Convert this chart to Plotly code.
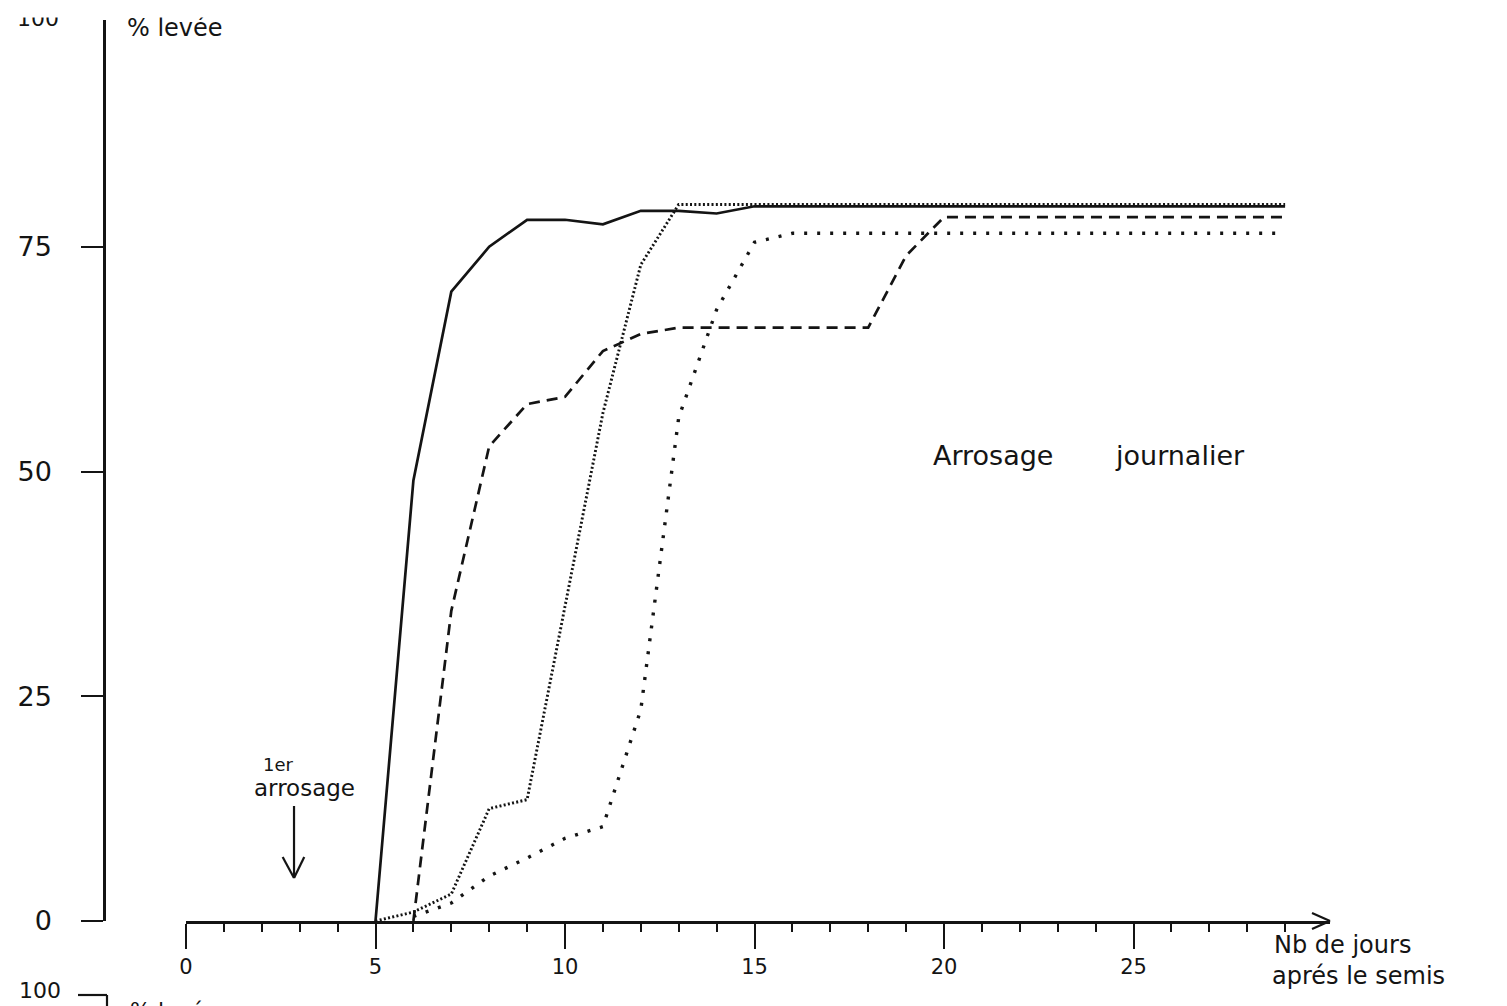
import plotly.graph_objects as go

# ---------------- data ----------------
solid_days = list(range(5, 30))
solid_vals = [0, 49, 70, 75, 78, 78, 77.5, 79, 79, 78.7, 79.5, 79.5, 79.5, 79.5, 79.5,
              79.5, 79.5, 79.5, 79.5, 79.5, 79.5, 79.5, 79.5, 79.5, 79.5]

dashed_days = list(range(6, 30))
dashed_vals = [0, 34.5, 52.8, 57.5, 58.3, 63.4, 65.3, 66, 66, 66, 66, 66, 66, 74, 78.3,
               78.3, 78.3, 78.3, 78.3, 78.3, 78.3, 78.3, 78.3, 78.3]

fine_dot_days = list(range(5, 30))
fine_dot_vals = [0, 1, 3, 12.5, 13.5, 35, 56.5, 73, 79.7, 79.7, 79.7, 79.7, 79.7, 79.7,
                 79.7, 79.7, 79.7, 79.7, 79.7, 79.7, 79.7, 79.7, 79.7, 79.7, 79.7]

coarse_dot_days = list(range(6, 30))
coarse_dot_vals = [0.5, 2, 5, 7, 9.2, 10.5, 23.5, 56, 68, 75.5, 76.5, 76.5, 76.5, 76.5,
                   76.5, 76.5, 76.5, 76.5, 76.5, 76.5, 76.5, 76.5, 76.5, 76.5]

x_tick_vals = [0, 5, 10, 15, 20, 25]
x_tick_text = ["0", "5", "10", "15", "20", "25"]
y_tick_vals = [0, 25, 50, 75]
y_tick_text = ["0", "25", "50", "75"]

first_watering_day = 2.85

# ---------------- layout constants ----------------
W, H = 1507, 1006
X0_PX, Y0_PX = 186, 921          # pixel of (0 days, 0 %)
PX_PER_DAY = 37.9
PX_PER_PCT = 8.99
X_END_PX = 1330
Y_TOP_PX = 20
YAXIS_PX = 104
INK = "#141414"
FONT = "DejaVu Sans"


def px(x):
    return x / W


def py(y):
    return 1 - y / H


def dx(xpix):
    return (xpix - X0_PX) / PX_PER_DAY


def dy(ypix):
    return (Y0_PX - ypix) / PX_PER_PCT


fig = go.Figure()

common = dict(mode="lines", hoverinfo="skip", showlegend=False)
fig.add_trace(go.Scatter(x=coarse_dot_days, y=coarse_dot_vals,
                         line=dict(color=INK, width=3.4, dash="3px,10px"), **common))
fig.add_trace(go.Scatter(x=fine_dot_days, y=fine_dot_vals,
                         line=dict(color=INK, width=2.9, dash="2px,2.3px"), **common))
fig.add_trace(go.Scatter(x=dashed_days, y=dashed_vals,
                         line=dict(color=INK, width=2.7, dash="11px,7px"), **common))
fig.add_trace(go.Scatter(x=solid_days, y=solid_vals,
                         line=dict(color=INK, width=2.7), **common))

fig.update_layout(
    width=W, height=H,
    margin=dict(l=0, r=0, t=0, b=0, autoexpand=False),
    paper_bgcolor="white", plot_bgcolor="white",
    showlegend=False,
    xaxis=dict(
        domain=[px(X0_PX), px(X_END_PX)],
        range=[0, dx(X_END_PX)],
        automargin=False,
        showline=True, linecolor=INK, linewidth=2.5,
        ticks="outside", ticklen=25, tickwidth=2.2, tickcolor=INK,
        tickvals=x_tick_vals, ticktext=x_tick_text,
        tickfont=dict(family=FONT, size=21, color=INK),
        ticklabelstandoff=0,
        minor=dict(ticks="outside", ticklen=8, tickwidth=2, tickcolor=INK,
                   tickvals=list(range(0, 30)), showgrid=False),
        showgrid=False, zeroline=False,
    ),
    yaxis=dict(
        anchor="free", position=px(YAXIS_PX),
        domain=[py(Y0_PX), py(Y_TOP_PX)],
        range=[0, dy(Y_TOP_PX)],
        automargin=False,
        showline=True, linecolor=INK, linewidth=2.5,
        ticks="outside", ticklen=22, tickwidth=2.2, tickcolor=INK,
        tickvals=y_tick_vals, ticktext=y_tick_text,
        tickfont=dict(family=FONT, size=27, color=INK),
        ticklabelstandoff=24,
        showgrid=False, zeroline=False,
    ),
)

shapes = []
# arrow head at the end of the x axis
for wing in (-8, 8):
    shapes.append(dict(type="line", xref="paper", yref="paper",
                       x0=px(X_END_PX - 18), y0=py(Y0_PX + wing),
                       x1=px(X_END_PX), y1=py(Y0_PX),
                       line=dict(color=INK, width=2.2)))
# "1er arrosage" arrow (in data coordinates)
shapes.append(dict(type="line", xref="x", yref="y",
                   x0=first_watering_day, y0=dy(806), x1=first_watering_day, y1=dy(878),
                   line=dict(color=INK, width=2.2)))
for side in (-0.3, 0.27):
    shapes.append(dict(type="line", xref="x", yref="y",
                       x0=first_watering_day + side, y0=dy(857),
                       x1=first_watering_day, y1=dy(878),
                       line=dict(color=INK, width=2.2)))
# top of the next chart's axis at the bottom edge
shapes.append(dict(type="line", xref="paper", yref="paper",
                   x0=px(78), y0=py(995), x1=px(107), y1=py(995),
                   line=dict(color=INK, width=2.2)))
shapes.append(dict(type="line", xref="paper", yref="paper",
                   x0=px(107), y0=py(995), x1=px(107), y1=py(1012),
                   line=dict(color=INK, width=2.2)))
fig.update_layout(shapes=shapes)


def note(text, x, y, size, xanchor="center", yanchor="middle", **kw):
    fig.add_annotation(text=text, xref="paper", yref="paper", x=px(x), y=py(y),
                       xanchor=xanchor, yanchor=yanchor, showarrow=False,
                       font=dict(family=FONT, size=size, color=INK), **kw)


# top labels, partly cut by the scan edge
note("100", 38, 33, 22, yanchor="bottom")
note("% levée", 125, 44, 24, xanchor="left", yanchor="bottom")
# white band = edge of the scanned page
fig.add_annotation(text=" ", xref="paper", yref="paper", x=0, y=1,
                   xanchor="left", yanchor="top", showarrow=False,
                   width=320, height=16, bgcolor="white", borderpad=0,
                   font=dict(size=10))

note("Arrosage", 993, 455, 27)
note("journalier", 1180, 455, 27)
note("1er", 278, 764, 18)
note("arrosage", 304, 788, 23)
note("Nb de jours", 1272, 945, 24, xanchor="left")
note("aprés le semis", 1270, 976, 24, xanchor="left")
note("100", 40, 990, 22)
note("% levée", 128, 996, 22, xanchor="left", yanchor="top")

fig.write_html("out.html")
